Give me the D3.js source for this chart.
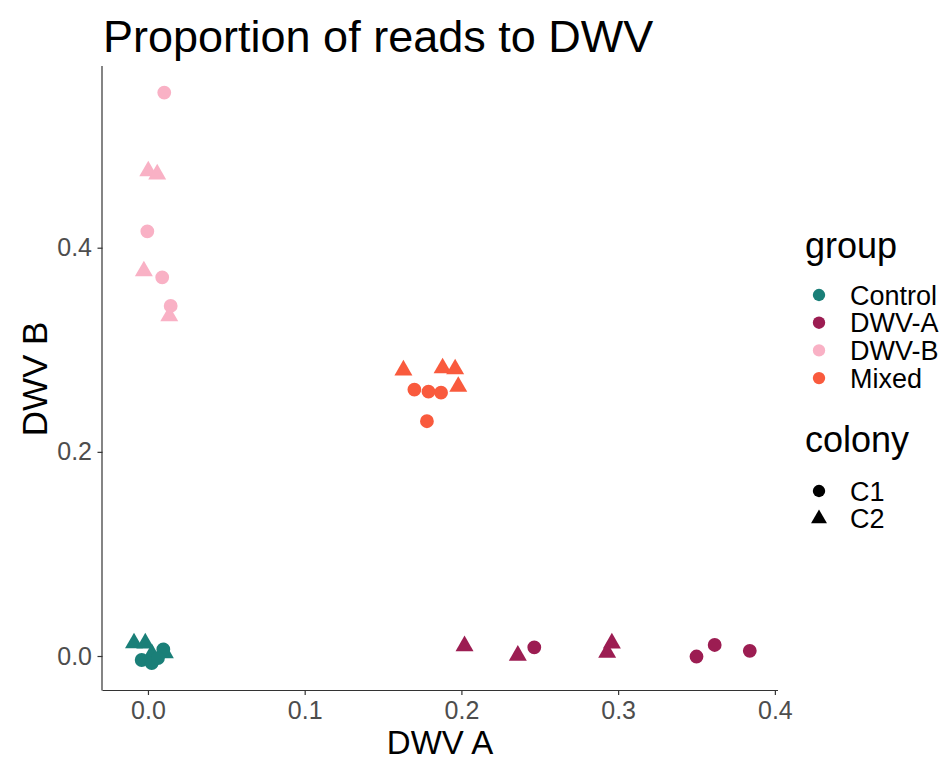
<!DOCTYPE html>
<html><head><meta charset="utf-8">
<script src="https://cdn.jsdelivr.net/npm/d3@7"></script>
<style>body{margin:0;background:#fff}svg{display:block}text{font-family:"Liberation Sans",Arial,sans-serif}</style>
</head><body><svg id="c" width="952" height="761"></svg>
<script>
const groups = ["Control","DWV-A","DWV-B","Mixed"];
const groupColors = ["#1a7f78","#9c1d52","#f9b1c5","#f95a3d"];
const colonies = ["C1","C2"];
const xTicks = [0.0,0.1,0.2,0.3,0.4];
const yTicks = [0.0,0.2,0.4];
// each row: [group, colony, DWV A, DWV B]
const controlPts = [["Control","C2",-0.0089,0.0127],["Control","C2",-0.0017,0.0125],["Control","C2",0.0108,0.003],["Control","C2",0.0025,0.002],
  ["Control","C1",0.0098,0.0064],["Control","C1",-0.004,-0.0039],["Control","C1",0.0024,-0.0069],["Control","C1",0.0064,-0.002]];
const dwvAPts = [["DWV-A","C2",0.202,0.0098],["DWV-A","C2",0.236,0.0005],["DWV-A","C2",0.296,0.0125],["DWV-A","C2",0.293,0.0034],
  ["DWV-A","C1",0.2465,0.0085],["DWV-A","C1",0.350,-0.0005],["DWV-A","C1",0.3616,0.0108],["DWV-A","C1",0.384,0.0051]];
const dwvBPts = [["DWV-B","C1",0.0104,0.552],["DWV-B","C2",0.0002,0.475],["DWV-B","C2",0.0059,0.472],["DWV-B","C1",-0.0004,0.416],
  ["DWV-B","C2",-0.0026,0.377],["DWV-B","C1",0.0091,0.371],["DWV-B","C1",0.0145,0.343],["DWV-B","C2",0.0136,0.333]];
const mixedPts = [["Mixed","C2",0.163,0.280],["Mixed","C2",0.188,0.282],["Mixed","C2",0.196,0.281],["Mixed","C2",0.198,0.264],
  ["Mixed","C1",0.170,0.261],["Mixed","C1",0.179,0.259],["Mixed","C1",0.187,0.258],["Mixed","C1",0.178,0.230]];

const data = [...controlPts,...dwvAPts,...dwvBPts,...mixedPts].map(d=>({group:d[0],colony:d[1],a:d[2],b:d[3]}));

const svg = d3.select("#c");
const x = d3.scaleLinear().domain([-0.029,0.402]).range([102.5,778]);
const y = d3.scaleLinear().domain([-0.0333,0.578]).range([690,66]);
const color = d3.scaleOrdinal().domain(groups).range(groupColors);
const shape = d3.scaleOrdinal().domain(colonies).range([d3.symbolCircle,d3.symbolTriangle]);

// title
svg.append("text").attr("x",103).attr("y",52).attr("font-size",45).attr("fill","#000").text("Proportion of reads to DWV");

// axes
const xAxis = svg.append("g").attr("transform","translate(0,690)")
  .call(d3.axisBottom(x).tickValues(xTicks).tickFormat(d3.format(".1f")).tickSize(5).tickSizeOuter(0));
const yAxis = svg.append("g").attr("transform","translate(102.5,0)")
  .call(d3.axisLeft(y).tickValues(yTicks).tickFormat(d3.format(".1f")).tickSize(5).tickSizeOuter(0));
[xAxis,yAxis].forEach(g=>{
  g.select(".domain").attr("stroke","#333").attr("stroke-width",1.2);
  g.selectAll(".tick line").attr("stroke","#333").attr("stroke-width",1.2);
  g.selectAll(".tick text").attr("fill","#4d4d4d").attr("font-size",25).attr("font-family","Liberation Sans, Arial, sans-serif");
});
xAxis.select(".domain").attr("d","M102.5,0.5H778");
yAxis.select(".domain").attr("d","M-0.5,66V690.5");
xAxis.selectAll(".tick text").attr("dy","0.85em");
yAxis.selectAll(".tick text").attr("dx","-0.1em");

svg.append("text").attr("x",440).attr("y",754).attr("text-anchor","middle").attr("font-size",33).text("DWV A");
svg.append("text").attr("transform","translate(47,379) rotate(-90)").attr("text-anchor","middle").attr("font-size",35).text("DWV B");

// points
svg.append("g").selectAll("path").data(data).join("path")
  .attr("transform",d=>`translate(${x(d.a)},${y(d.b)})`)
  .attr("d",d=>d3.symbol().type(shape(d.colony)).size(d.colony==="C1"?150:140)())
  .attr("fill",d=>color(d.group));

// legend
const lg = svg.append("g");
lg.append("text").attr("x",805).attr("y",258).attr("font-size",36).text("group");
groups.forEach((g,i)=>{
  const yy = 295 + i*27.7;
  lg.append("path").attr("transform",`translate(819,${yy})`).attr("d",d3.symbol().type(d3.symbolCircle).size(120)()).attr("fill",color(g));
  lg.append("text").attr("x",850).attr("y",yy+9.5).attr("font-size",27).text(g);
});
lg.append("text").attr("x",805).attr("y",452).attr("font-size",36).text("colony");
colonies.forEach((c,i)=>{
  const yy = 491 + i*27.7;
  lg.append("path").attr("transform",`translate(819,${yy})`).attr("d",d3.symbol().type(shape(c)).size(c==="C1"?120:110)()).attr("fill","#000");
  lg.append("text").attr("x",850).attr("y",yy+9.5).attr("font-size",27).text(c);
});
</script></body></html>
